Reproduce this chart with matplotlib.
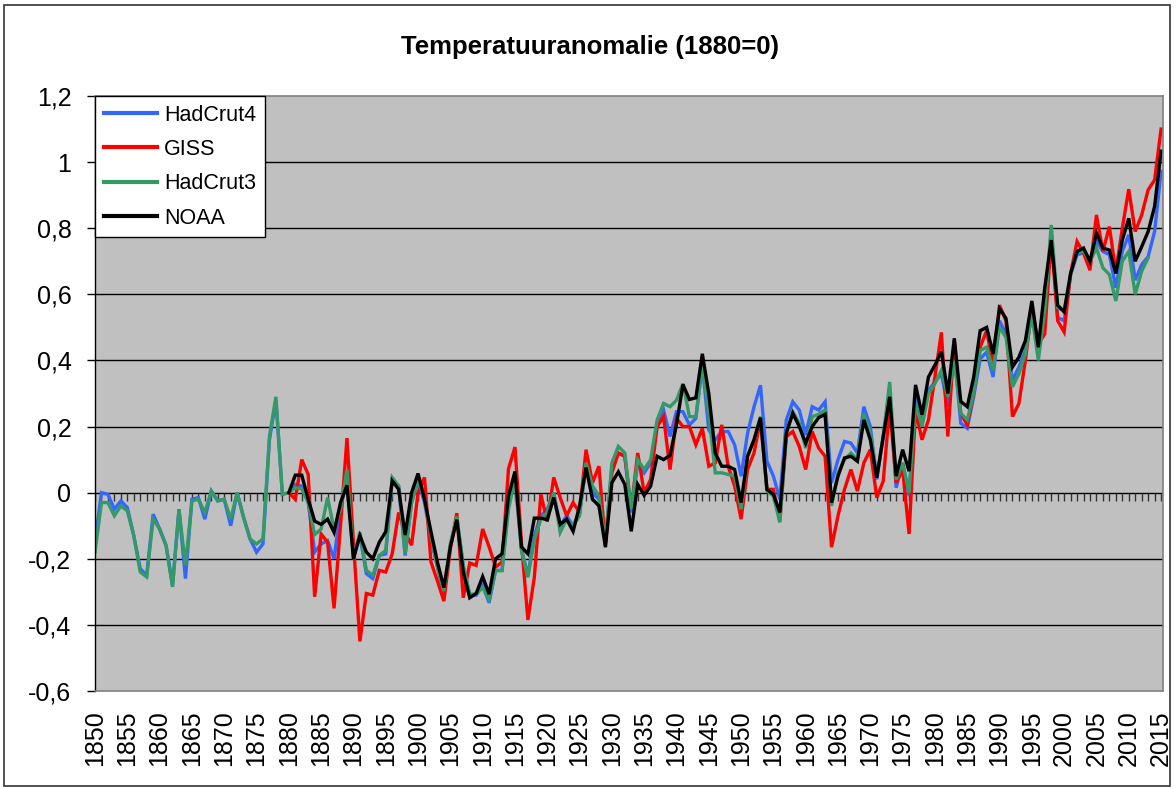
import numpy as np
import matplotlib
matplotlib.use('Agg')
import matplotlib.pyplot as plt
from matplotlib.patches import Rectangle
from matplotlib.ticker import FuncFormatter

plt.rcParams['font.family'] = ['Liberation Sans', 'DejaVu Sans']

# temperature anomalies relative to 1880
hadcrut4_start = 1850
hadcrut4 = [
    -0.15, 0.0, -0.005, -0.05, -0.025, -0.045, -0.13, -0.23, -0.25, -0.065,
    -0.11, -0.16, -0.28, -0.05, -0.26, -0.02, -0.015, -0.08, 0.005, -0.025,
    -0.02, -0.1, 0.0, -0.075, -0.14, -0.18, -0.155, 0.16, 0.28, -0.005,
    0.0, 0.025, 0.02, -0.03, -0.18, -0.155, -0.145, -0.2, -0.05, 0.05,
    -0.19, -0.13, -0.245, -0.26, -0.19, -0.185, 0.04, 0.02, -0.19, -0.03,
    0.035, -0.03, -0.14, -0.225, -0.31, -0.16, -0.075, -0.225, -0.31, -0.31,
    -0.28, -0.333, -0.235, -0.235, -0.04, 0.05, -0.17, -0.25, -0.13, -0.07,
    -0.05, 0.0, -0.1, -0.07, -0.1, -0.06, 0.08, 0.0, -0.02, -0.15,
    0.08, 0.12, 0.11, -0.06, 0.09, 0.06, 0.09, 0.2, 0.25, 0.17,
    0.245, 0.245, 0.205, 0.225, 0.385, 0.19, 0.16, 0.185, 0.185, 0.145,
    0.05, 0.18, 0.26, 0.325, 0.095, 0.05, -0.02, 0.22, 0.275, 0.25,
    0.175, 0.26, 0.25, 0.275, 0.03, 0.1, 0.155, 0.15, 0.12, 0.26,
    0.2, 0.04, 0.17, 0.3, 0.015, 0.09, -0.01, 0.29, 0.215, 0.31,
    0.335, 0.36, 0.26, 0.42, 0.21, 0.195, 0.29, 0.405, 0.425, 0.35,
    0.52, 0.48, 0.34, 0.38, 0.43, 0.54, 0.42, 0.55, 0.79, 0.53,
    0.52, 0.66, 0.72, 0.725, 0.7, 0.76, 0.73, 0.72, 0.62, 0.73,
    0.78, 0.643, 0.69, 0.714, 0.79, 0.972,
]

giss_start = 1880
giss = [
    0.0, -0.02, 0.1, 0.055, -0.315, -0.125, -0.15, -0.35, -0.1, 0.165,
    -0.15, -0.45, -0.305, -0.31, -0.235, -0.24, -0.185, -0.06, -0.12, -0.159,
    0.0, 0.046, -0.21, -0.267, -0.328, -0.17, -0.062, -0.318, -0.213, -0.22,
    -0.11, -0.164, -0.225, -0.21, 0.072, 0.138, -0.15, -0.385, -0.256, -0.005,
    -0.087, 0.046, -0.015, -0.07, -0.03, -0.06, 0.13, 0.03, 0.08, -0.16,
    0.06, 0.12, 0.11, -0.05, 0.12, 0.0, 0.04, 0.2, 0.23, 0.07,
    0.225, 0.2, 0.2, 0.145, 0.195, 0.08, 0.09, 0.205, 0.08, 0.02,
    -0.08, 0.07, 0.12, 0.22, 0.01, 0.01, -0.085, 0.17, 0.185, 0.14,
    0.07, 0.185, 0.135, 0.11, -0.165, -0.07, 0.01, 0.07, 0.005, 0.09,
    0.13, -0.015, 0.035, 0.26, 0.03, 0.07, -0.125, 0.25, 0.16, 0.22,
    0.35, 0.485, 0.17, 0.46, 0.24, 0.205, 0.3, 0.44, 0.49, 0.39,
    0.567, 0.52, 0.23, 0.27, 0.4, 0.56, 0.45, 0.48, 0.77, 0.52,
    0.486, 0.663, 0.76, 0.725, 0.673, 0.84, 0.73, 0.805, 0.668, 0.8,
    0.918, 0.79, 0.84, 0.916, 0.946, 1.1,
]

hadcrut3_start = 1850
hadcrut3 = [
    -0.18, -0.03, -0.03, -0.07, -0.04, -0.055, -0.13, -0.24, -0.255, -0.08,
    -0.11, -0.16, -0.285, -0.05, -0.22, -0.025, -0.02, -0.06, 0.005, -0.025,
    -0.02, -0.08, 0.0, -0.075, -0.14, -0.155, -0.14, 0.17, 0.29, -0.005,
    0.0, 0.015, 0.012, -0.03, -0.127, -0.11, -0.015, -0.11, -0.05, 0.07,
    -0.2, -0.12, -0.235, -0.25, -0.19, -0.175, 0.046, 0.02, -0.185, -0.03,
    0.04, -0.02, -0.13, -0.225, -0.297, -0.154, -0.072, -0.22, -0.307, -0.307,
    -0.287, -0.323, -0.236, -0.236, -0.05, 0.04, -0.174, -0.256, -0.143, -0.08,
    -0.06, 0.0, -0.12, -0.08, -0.1, -0.07, 0.09, 0.02, -0.01, -0.15,
    0.09, 0.14, 0.12, -0.05, 0.1, 0.07, 0.1, 0.22, 0.27, 0.26,
    0.28, 0.33, 0.23, 0.23, 0.385, 0.24, 0.06, 0.06, 0.055, 0.05,
    -0.05, 0.11, 0.16, 0.23, 0.005, -0.01, -0.09, 0.18, 0.245, 0.21,
    0.135, 0.23, 0.237, 0.25, -0.04, 0.06, 0.1, 0.12, 0.1, 0.24,
    0.18, 0.05, 0.17, 0.335, 0.04, 0.09, 0.0, 0.27, 0.2, 0.3,
    0.33, 0.37, 0.29, 0.4, 0.24, 0.22, 0.3, 0.43, 0.44, 0.37,
    0.5, 0.47, 0.32, 0.36, 0.42, 0.54, 0.4, 0.55, 0.81, 0.56,
    0.55, 0.66, 0.73, 0.73, 0.7, 0.74, 0.68, 0.66, 0.58, 0.7,
    0.73, 0.6, 0.67, 0.71,
]

noaa_start = 1880
noaa = [
    0.0, 0.053, 0.053, -0.02, -0.086, -0.096, -0.08, -0.12, -0.03, 0.022,
    -0.2, -0.13, -0.18, -0.2, -0.15, -0.118, 0.036, 0.01, -0.128, 0.0,
    0.058, -0.02, -0.118, -0.21, -0.287, -0.164, -0.082, -0.24, -0.318, -0.305,
    -0.254, -0.307, -0.2, -0.185, -0.01, 0.064, -0.164, -0.185, -0.077, -0.077,
    -0.082, -0.015, -0.096, -0.08, -0.117, -0.04, 0.076, -0.02, -0.04, -0.165,
    0.03, 0.063, 0.025, -0.117, 0.025, -0.008, 0.02, 0.11, 0.1, 0.113,
    0.206, 0.327, 0.282, 0.287, 0.42, 0.3, 0.12, 0.08, 0.08, 0.07,
    -0.03, 0.11, 0.16, 0.227, 0.01, -0.005, -0.06, 0.18, 0.24, 0.2,
    0.15, 0.2, 0.227, 0.237, -0.03, 0.05, 0.105, 0.11, 0.095, 0.22,
    0.16, 0.045, 0.17, 0.29, 0.05, 0.13, 0.065, 0.326, 0.236, 0.35,
    0.386, 0.427, 0.3, 0.467, 0.276, 0.26, 0.35, 0.49, 0.5, 0.42,
    0.557, 0.527, 0.38, 0.41, 0.46, 0.58, 0.44, 0.62, 0.764, 0.567,
    0.547, 0.663, 0.73, 0.74, 0.7, 0.785, 0.74, 0.734, 0.663, 0.764,
    0.83, 0.7, 0.744, 0.79, 0.866, 1.033,
]

series = [
    ('HadCrut4', hadcrut4_start, hadcrut4, '#3366FF'),
    ('GISS', giss_start, giss, '#FF0000'),
    ('HadCrut3', hadcrut3_start, hadcrut3, '#339966'),
    ('NOAA', noaa_start, noaa, '#000000'),
]

first_year, last_year = 1850, 2015
all_years = np.arange(first_year, last_year + 1)
label_years = np.arange(first_year, last_year + 1, 5)
yticks = np.round(np.arange(-0.6, 1.21, 0.2), 1)

fig = plt.figure(figsize=(11.76, 7.89), dpi=100)
ax = fig.add_axes([95 / 1176, 98 / 789, 1068 / 1176, 595 / 789])
ax.set_facecolor('#C0C0C0')

for name, start, vals, color in series:
    yrs = np.arange(start, start + len(vals))
    ax.plot(yrs, vals, color=color, lw=2.4, label=name, solid_joinstyle='miter')

ax.set_xlim(first_year, last_year + 0.3)
ax.set_ylim(-0.6, 1.2)

# horizontal grid and the category axis crossing at 0 with yearly ticks
ax.set_yticks(yticks)
for v in yticks[1:-1]:
    ax.axhline(v, color='black', lw=1.0, zorder=1)
ax.vlines(all_years, -0.024, 0, color='#333333', lw=1.0, zorder=1)

ax.yaxis.set_major_formatter(FuncFormatter(lambda v, p: f'{v:g}'.replace('.', ',')))
ax.tick_params(axis='y', direction='out', length=6, width=1, pad=11, labelsize=18)

ax.set_xticks(label_years)
ax.set_xticklabels([str(y) for y in label_years], rotation=90)
ax.tick_params(axis='x', length=0, pad=14, labelsize=18)

for side in ['top', 'right', 'bottom']:
    ax.spines[side].set_color('#808080')
    ax.spines[side].set_linewidth(1.2)
ax.spines['left'].set_color('black')
ax.spines['left'].set_linewidth(1.0)

leg = ax.legend(loc='upper left', bbox_to_anchor=(0, 1), borderaxespad=0,
                fontsize=15.5, frameon=True, fancybox=False, framealpha=1,
                handlelength=2.5, handletextpad=0.3, labelspacing=0.62,
                borderpad=0.4)
leg.get_frame().set_edgecolor('black')
leg.get_frame().set_linewidth(1.0)
for line in leg.get_lines():
    line.set_linewidth(3)

fig.text(0.502, 0.94, 'Temperatuuranomalie (1880=0)', ha='center', va='center',
         fontsize=18.5, fontweight='bold')

fig.patches.append(Rectangle((4 / 1176, 3 / 789), 1166 / 1176, 781 / 789,
                             transform=fig.transFigure, fill=False,
                             edgecolor='#333333', lw=1.2))

fig.savefig('out.png', dpi=100)
